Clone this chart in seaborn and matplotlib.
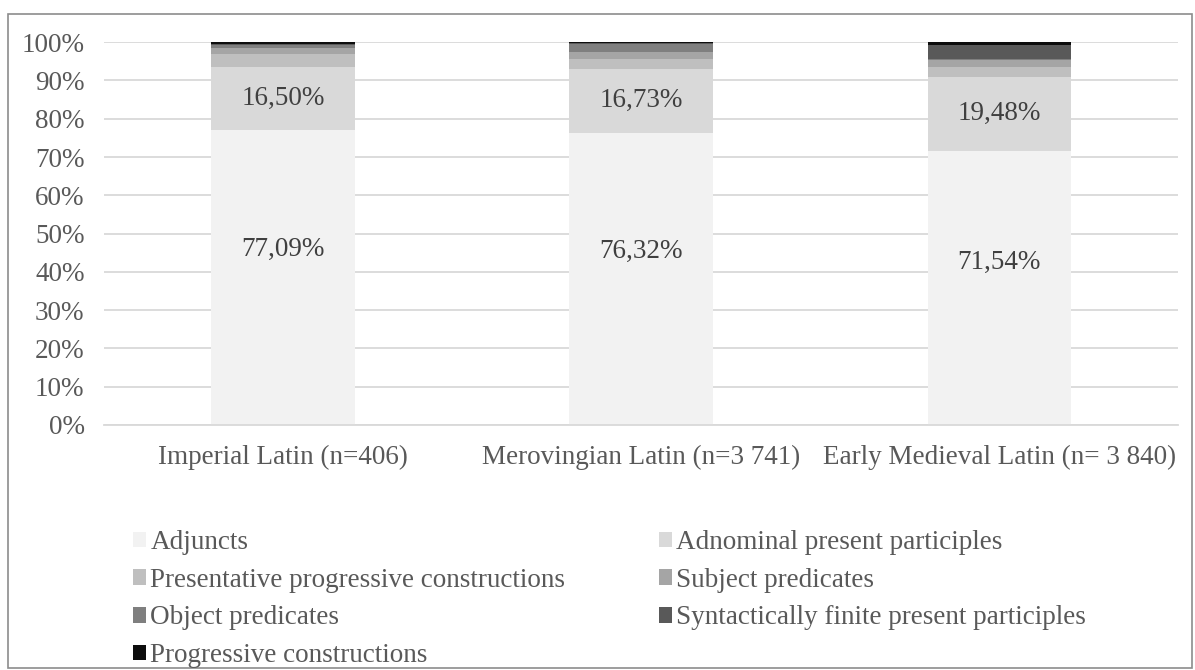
import numpy as np
import pandas as pd
import matplotlib
matplotlib.use("Agg")
import matplotlib.pyplot as plt
import seaborn as sns
from matplotlib.patches import Rectangle, Patch

# data (percent of each period)
periods = ["Imperial Latin (n=406)", "Merovingian Latin (n=3 741)",
           "Early Medieval Latin (n= 3 840)"]
categories = ["Adjuncts", "Adnominal present participles",
              "Presentative progressive constructions", "Subject predicates",
              "Object predicates", "Syntactically finite present participles",
              "Progressive constructions"]
adjuncts = [77.09, 76.32, 71.54]
adnominal = [16.50, 16.73, 19.48]
presentative = [3.45, 2.60, 2.58]
subject_pred = [1.48, 1.85, 1.80]
object_pred = [0.74, 2.00, 0.30]
synt_finite = [0.25, 0.20, 3.50]
progressive = [0.49, 0.30, 0.80]
labelled = ["Adjuncts", "Adnominal present participles"]

colors = ["#f2f2f2", "#d9d9d9", "#bfbfbf", "#a5a5a5", "#7f7f7f", "#595959", "#0d0d0d"]

df = pd.DataFrame({"period": periods,
                   categories[0]: adjuncts, categories[1]: adnominal,
                   categories[2]: presentative, categories[3]: subject_pred,
                   categories[4]: object_pred, categories[5]: synt_finite,
                   categories[6]: progressive})

sns.set_style("white")
plt.rcParams["font.family"] = ["Liberation Serif", "DejaVu Serif"]
txt = "#595959"
fs = 19.5

fig = plt.figure(figsize=(11.95, 6.7), dpi=100)
ax = fig.add_axes([0.087, 0.3657, 0.899, 0.5713])

x = np.arange(len(periods))
bottom = np.zeros(len(periods))
handles = []
for cat, col in zip(categories, colors):
    vals = df[cat].values
    ax.bar(x, vals, bottom=bottom, width=0.4, color=col, linewidth=0, zorder=2)
    if cat in labelled:
        # the bottom labels sit a bit above the middle in the original
        frac = 0.595 if cat == "Adjuncts" else 0.5
        for xi, b, v in zip(x, bottom, vals):
            ax.text(xi, b + v * frac, f"{v:.2f}%".replace(".", ","), ha="center",
                    va="center", fontsize=fs, color="#404040", zorder=3)
    bottom += vals
    handles.append(Patch(facecolor=col, edgecolor="none", label=cat))

ax.set_xlim(-0.5, 2.5)
ax.set_ylim(0, 100)
ax.set_yticks(np.arange(0, 101, 10))
ax.set_yticklabels([f"{v}%" for v in range(0, 101, 10)])
ax.set_xticks(x)
ax.set_xticklabels(periods)
ax.tick_params(axis="both", length=0, labelsize=fs, colors=txt)
ax.tick_params(axis="x", pad=14)
ax.tick_params(axis="y", pad=14)
ax.yaxis.grid(True, color="#d9d9d9", linewidth=1.3, zorder=0)
ax.set_axisbelow(True)
for s in ["top", "right", "left"]:
    ax.spines[s].set_visible(False)
ax.spines["bottom"].set_color("#d9d9d9")
ax.spines["bottom"].set_linewidth(1.3)

# legend laid out row-wise like the original
order = [0, 2, 4, 6, 1, 3, 5]
leg = fig.legend([handles[i] for i in order], [categories[i] for i in order],
                 loc="upper left", bbox_to_anchor=(0.111, 0.209), ncol=2,
                 frameon=False, fontsize=fs, handlelength=0.5, handleheight=0.5,
                 handletextpad=0.15, labelspacing=0.47, columnspacing=3.45,
                 borderaxespad=0, borderpad=0)
for t in leg.get_texts():
    t.set_color(txt)

# outer chart frame
fig.patches.append(Rectangle((8 / 1195, 2 / 670), 1184 / 1195, 654 / 670,
                             transform=fig.transFigure, fill=False,
                             edgecolor="#8c8c8c", linewidth=1.2))

fig.savefig("out.png", dpi=100)
